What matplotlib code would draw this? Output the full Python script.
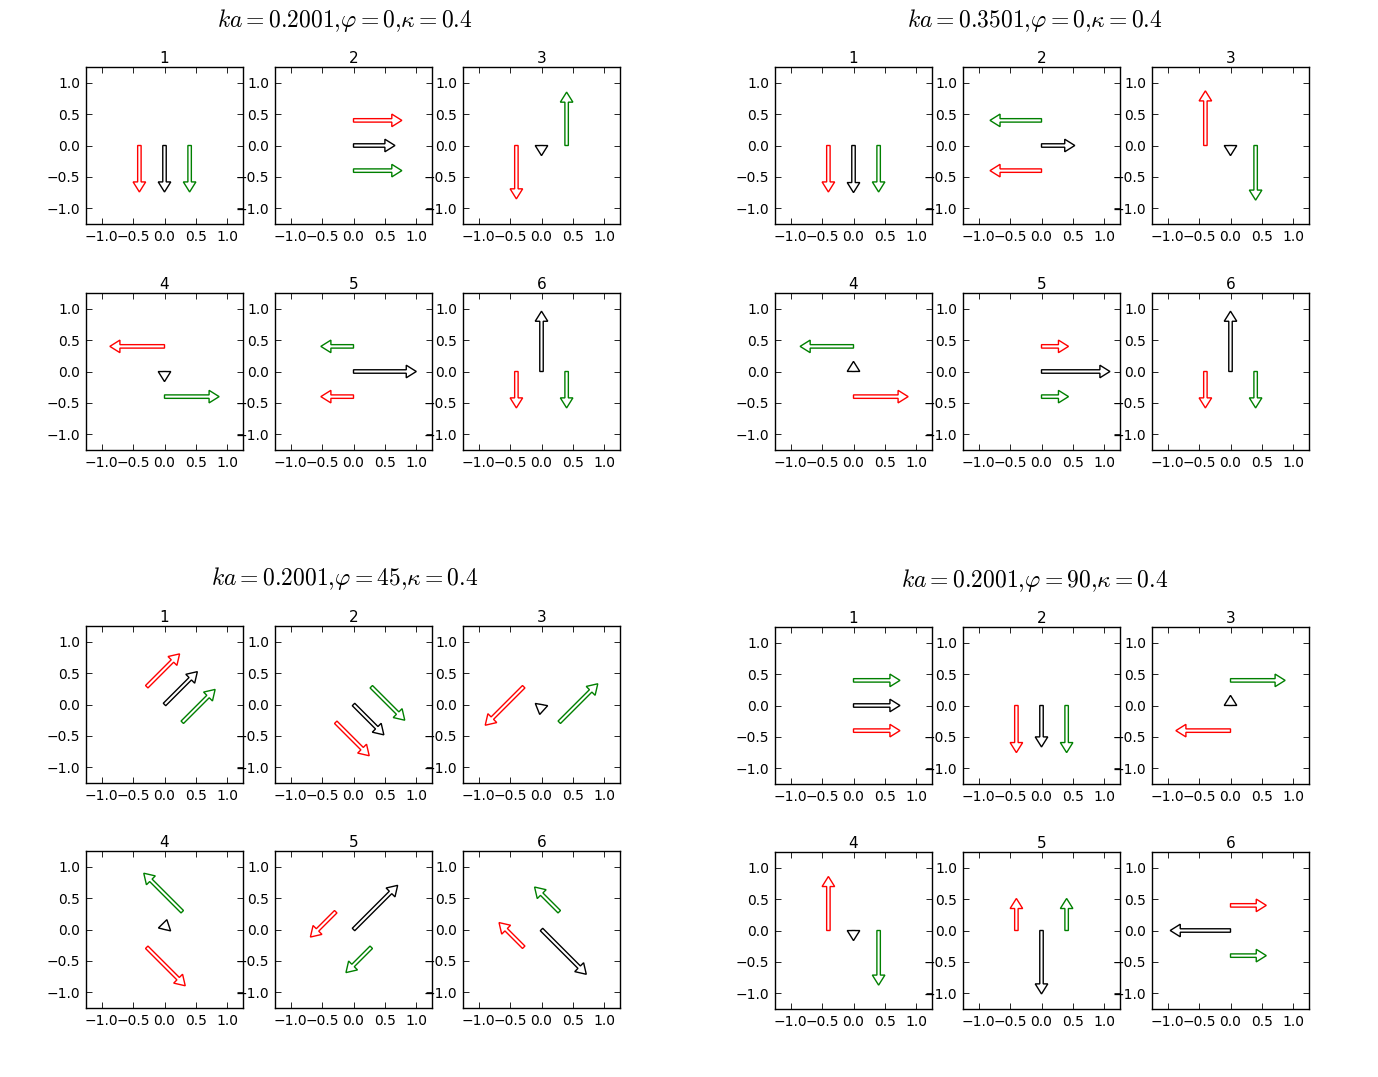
import matplotlib
matplotlib.use("Agg")
import matplotlib.pyplot as plt

# ---------------- data ----------------
titles = [r"$ka=0.2001{,}\varphi=0{,}\kappa=0.4$",
          r"$ka=0.3501{,}\varphi=0{,}\kappa=0.4$",
          r"$ka=0.2001{,}\varphi=45{,}\kappa=0.4$",
          r"$ka=0.2001{,}\varphi=90{,}\kappa=0.4$"]
panel_labels = ["1", "2", "3", "4", "5", "6"]

# start point of the red arrow (green starts at the mirrored point, black at origin)
g1_red_start = [(-0.4, 0), (0, 0.4), (-0.4, 0), (0, 0.4), (0, -0.4), (-0.4, 0)]
g1_red   = [(0, -0.58), (0.61, 0), (0, -0.69), (-0.71, 0), (-0.36, 0), (0, -0.42)]
g1_black = [(0, -0.58), (0.50, 0), (0, -0.001), (0, -0.001), (0.84, 0), (0, 0.80)]
g1_green = [(0, -0.58), (0.61, 0), (0, 0.69), (0.71, 0), (-0.36, 0), (0, -0.42)]

g2_red_start = [(-0.4, 0), (0, -0.4), (-0.4, 0), (0, -0.4), (0, 0.4), (-0.4, 0)]
g2_red   = [(0, -0.58), (-0.66, 0), (0, 0.71), (0.71, 0), (0.27, 0), (0, -0.42)]
g2_black = [(0, -0.59), (0.37, 0), (0, -0.001), (0, 0.001), (0.93, 0), (0, 0.80)]
g2_green = [(0, -0.58), (-0.66, 0), (0, -0.71), (-0.69, 0), (0.27, 0), (0, -0.42)]

g3_red_start = [(-0.283, 0.283), (-0.283, -0.283), (-0.283, 0.283),
                (-0.283, -0.283), (-0.283, 0.283), (-0.283, -0.283)]
g3_red   = [(0.41, 0.41), (0.42, -0.42), (-0.50, -0.50), (0.50, -0.50), (-0.29, -0.29), (-0.28, 0.28)]
g3_black = [(0.41, 0.41), (0.37, -0.37), (-0.00018, -0.001), (0.00024, 0.001), (0.59, 0.59), (0.60, -0.60)]
g3_green = [(0.41, 0.41), (0.42, -0.42), (0.50, 0.50), (-0.50, 0.50), (-0.29, -0.29), (-0.28, 0.28)]

g4_red_start = [(0, -0.4), (-0.4, 0), (0, -0.4), (-0.4, 0), (-0.4, 0), (0, 0.4)]
g4_red   = [(0.58, 0), (0, -0.59), (-0.71, 0), (0, 0.70), (0, 0.35), (0.41, 0)]
g4_black = [(0.58, 0), (0, -0.50), (0, 0.001), (0, -0.001), (0, -0.85), (-0.80, 0)]
g4_green = [(0.58, 0), (0, -0.59), (0.71, 0), (0, -0.71), (0, 0.35), (0.41, 0)]

groups = [
    (g1_red_start, g1_red, g1_black, g1_green),
    (g2_red_start, g2_red, g2_black, g2_green),
    (g3_red_start, g3_red, g3_black, g3_green),
    (g4_red_start, g4_red, g4_black, g4_green),
]
ticks = [-1.0, -0.5, 0.0, 0.5, 1.0]

# ---------------- layout (pixels) ----------------
W, H = 1378, 1077
col_left = [[86, 275, 463], [775, 963, 1152], [86, 275, 463], [775, 963, 1152]]
row_top = [[67, 293], [67, 293], [626, 851], [627, 852]]
size = 157
title_pos = [(345, 20), (1035, 20), (345, 579), (1035, 580)]

plt.rcParams['mathtext.fontset'] = 'cm'
plt.rcParams['font.family'] = ['DejaVu Sans']

fig = plt.figure(figsize=(W / 100, H / 100), dpi=100, facecolor='white')

colors = {'red': '#ff0000', 'black': '#000000', 'green': '#008000'}
aw, hw, hl = 0.055, 0.2, 0.16

for g, (rs, rv, bv, gv) in enumerate(groups):
    tx, ty = title_pos[g]
    fig.text(tx / W, 1 - ty / H, titles[g], ha='center', va='center', fontsize=17)
    for p in range(6):
        r, c = divmod(p, 3)
        left = col_left[g][c]
        top = row_top[g][r]
        ax = fig.add_axes([left / W, 1 - (top + size) / H, size / W, size / H])
        ax.set_xlim(-1.25, 1.25)
        ax.set_ylim(-1.25, 1.25)
        ax.set_xticks(ticks)
        ax.set_yticks(ticks)
        ax.tick_params(direction='in', length=4, width=0.6, top=True, right=True,
                       labelsize=10, pad=4, colors='black')
        for s in ax.spines.values():
            s.set_linewidth(1.0)
            s.set_color('black')
        ax.set_title(panel_labels[p], fontsize=11, pad=3)
        x0, y0 = rs[p]
        arrows = [(x0, y0, rv[p], 'red'), (0, 0, bv[p], 'black'), (-x0, -y0, gv[p], 'green')]
        for (sx, sy, (dx, dy), col) in arrows:
            ax.arrow(sx, sy, dx, dy, width=aw, head_width=hw, head_length=hl,
                     fill=False, ec=colors[col], lw=1.0, length_includes_head=False)

fig.savefig("out.png", dpi=100, facecolor='white')
